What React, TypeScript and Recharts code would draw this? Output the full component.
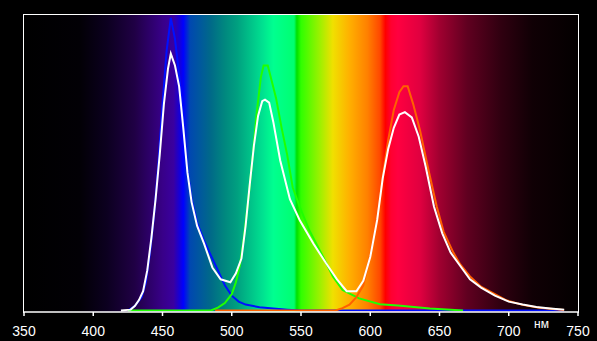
import { LineChart, Line, XAxis, YAxis, ReferenceArea } from 'recharts';

const ticks = [350, 400, 450, 500, 550, 600, 650, 700, 750];

const blueNm = [425, 430, 435, 438, 441, 444, 447, 450, 453, 456, 459, 462, 465, 468, 471, 475, 480, 485, 490, 495, 500, 505, 510, 520, 530, 540, 550, 600, 650, 700, 740];
const blueVal = [0.5, 2, 5, 10, 20, 33, 50, 70, 88, 99, 92, 80, 64, 48, 38, 30, 24, 19, 14, 9, 5.5, 3.5, 2.5, 1.6, 1.2, 0.8, 0.5, 0.5, 0.5, 0.5, 0.5];

const greenNm = [425, 485, 490, 495, 500, 503, 506, 509, 512, 515, 518, 521, 523, 526, 529, 532, 536, 540, 544, 549, 556, 566, 573, 580, 592, 607, 620, 643, 667];
const greenVal = [0.5, 0.5, 1.5, 3, 6, 10, 16, 26, 38, 52, 67, 79, 83, 83, 77.5, 72, 62, 53, 42, 35.5, 27.5, 18.5, 12, 7.4, 4.6, 2.6, 2.2, 1.2, 0.5];

const redNm = [488, 575, 580, 585, 590, 595, 600, 605, 609, 613, 617, 621, 624, 627, 631, 636, 641, 648, 653, 660, 665, 672, 680, 687, 698, 710, 722, 740];
const redVal = [0.5, 0.5, 1.3, 2.5, 5, 9, 19, 31, 46, 58, 68, 74, 76, 76, 70, 61, 50, 35.5, 27, 20, 16, 12, 8.5, 6.8, 4, 2.4, 1.4, 0.7];

const whiteNm = [420, 427, 430, 433, 436, 439, 442, 445, 448, 451, 454, 456, 459, 462, 465, 468, 471, 475, 480, 486, 492, 499, 503, 507, 510, 513, 516, 519, 522, 524, 527, 530, 535, 542, 549, 559, 568, 576, 583, 590, 595, 600, 605, 609, 613, 617, 621, 625, 630, 635, 640, 646, 652, 658, 665, 672, 680, 690, 700, 710, 720, 730, 740];
const whiteVal = [0.5, 0.8, 2, 4, 7, 14, 25, 38, 53, 70, 82, 87, 83, 76, 62, 47, 37, 29, 23, 15, 11, 10, 13, 18, 29, 43, 56, 66, 71, 71.5, 70.5, 64, 51, 38, 31, 23, 16.5, 11, 7, 7, 10.5, 18.5, 31, 45, 55, 62, 66.5, 67.3, 65.5, 59, 49, 35.5, 26.5, 20, 15.5, 11, 8.2, 5.5, 3.5, 2.5, 1.7, 1.2, 0.8];

// spectrum colours along the x axis (nm -> colour)
const spectrum: [number, string][] = [
  [350, '#000000'], [390, '#020005'], [410, '#0c0020'], [430, '#200045'], [450, '#380088'],
  [458, '#3a00a0'], [463, '#1000e0'], [465, '#0000ff'], [470, '#0048b0'], [485, '#006a88'],
  [495, '#00887f'], [504, '#00a080'], [522, '#00e090'], [530, '#00ff90'], [545, '#00ff70'],
  [547, '#00e000'], [550, '#30ff00'], [564, '#a0f000'], [573, '#f0e000'], [585, '#ffb000'],
  [598, '#ff8000'], [607, '#ff4800'], [610, '#ff1000'], [611, '#ff0000'], [615, '#ff0030'],
  [620, '#ff0040'], [636, '#e00040'], [650, '#a00030'], [670, '#600020'], [694, '#300010'],
  [717, '#100005'], [750, '#030000'],
];

const toPts = (nm: number[], val: number[]) => nm.map((n, i) => ({ nm: n, v: val[i] }));

const blue = toPts(blueNm, blueVal);
const green = toPts(greenNm, greenVal);
const red = toPts(redNm, redVal);
const white = toPts(whiteNm, whiteVal);

const font = 'Liberation Sans, Arial, sans-serif';

export default function App() {
  return (
    <div style={{ position: 'relative', width: 597, height: 341, background: '#000' }}>
      <style>{`body{margin:0;background:#000}`}</style>
      <LineChart width={597} height={341} margin={{ top: 15, right: 19, left: 24, bottom: 0 }}>
        <defs>
          <linearGradient id="spec" x1="0" y1="0" x2="1" y2="0">
            {spectrum.map(([n, c]) => (
              <stop key={n} offset={(n - 350) / 400} stopColor={c} />
            ))}
          </linearGradient>
        </defs>
        <XAxis
          dataKey="nm"
          type="number"
          domain={[350, 750]}
          ticks={ticks}
          allowDuplicatedCategory={false}
          height={29}
          stroke="#fff"
          strokeWidth={1.5}
          tickSize={4}
          tickMargin={10}
          tick={{ fill: '#fff', fontSize: 14, fontFamily: font }}
        />
        <YAxis hide domain={[0, 100]} />
        <ReferenceArea x1={350} x2={750} y1={0} y2={100} fill="url(#spec)" fillOpacity={1} stroke="none" />
        <Line data={blue} dataKey="v" type="linear" stroke="#0010ff" strokeWidth={2} dot={false} isAnimationActive={false} />
        <Line data={green} dataKey="v" type="linear" stroke="#20ff00" strokeWidth={2} dot={false} isAnimationActive={false} />
        <Line data={red} dataKey="v" type="linear" stroke="#ff6000" strokeWidth={2} dot={false} isAnimationActive={false} />
        <Line data={white} dataKey="v" type="linear" stroke="#ffffff" strokeWidth={2} dot={false} isAnimationActive={false} />
      </LineChart>
      {/* white frame round the plot (top, left, right) */}
      <div
        style={{
          position: 'absolute', left: 23, top: 14, width: 554, height: 298,
          borderTop: '1px solid #fff', borderLeft: '1px solid #fff', borderRight: '1px solid #fff',
          pointerEvents: 'none',
        }}
      />
      <div style={{ position: 'absolute', left: 534, top: 318, color: '#fff', fontSize: 12, lineHeight: '12px', fontFamily: font }}>
        нм
      </div>
    </div>
  );
}
